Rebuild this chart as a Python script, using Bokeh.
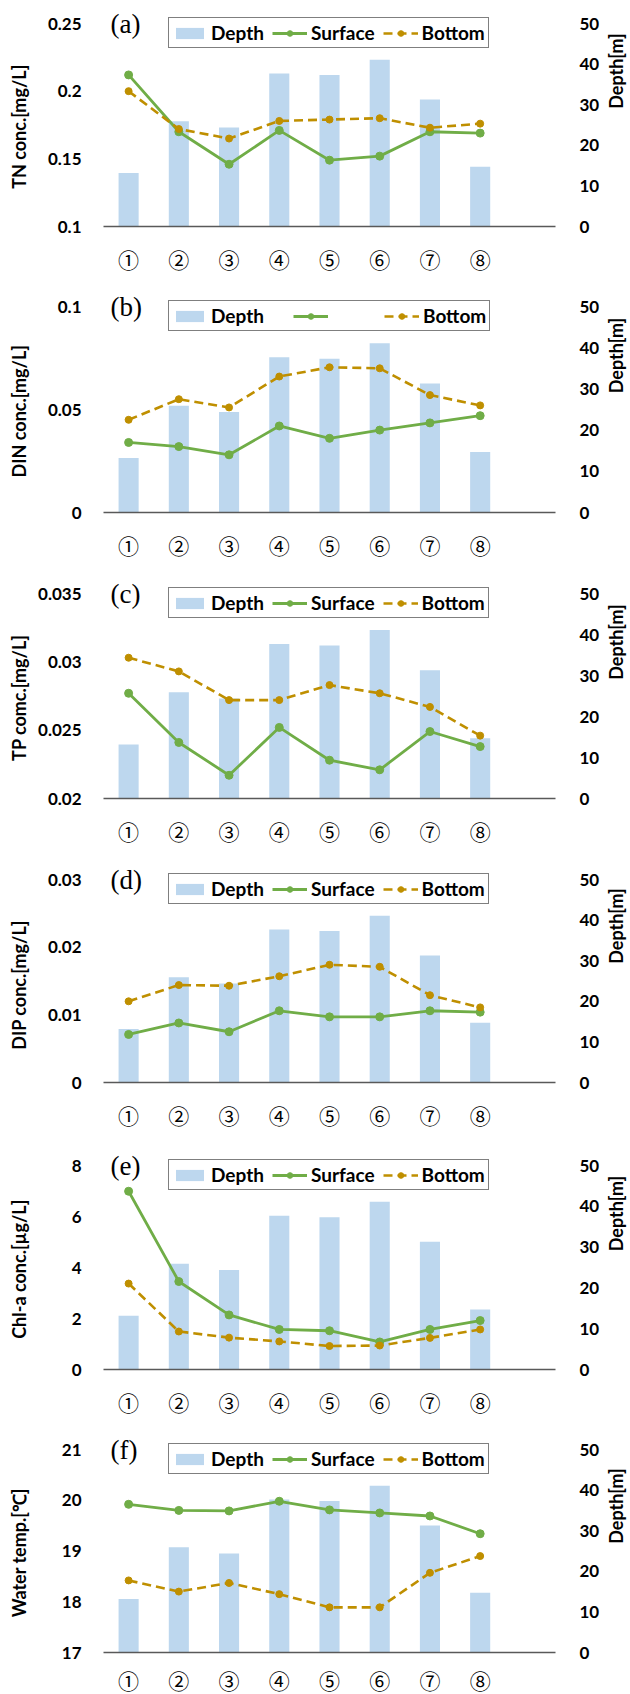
import math
from bokeh.plotting import figure
from bokeh.models import (Range1d, LinearAxis, FixedTicker, NumeralTickFormatter,
                          Legend, LegendItem, Label)
from bokeh.layouts import column, row
from bokeh.embed import file_html
from bokeh.resources import INLINE

# ---------------- data ----------------
stations = ["①", "②", "③", "④", "⑤", "⑥", "⑦", "⑧"]
station_x = [1, 2, 3, 4, 5, 6, 7, 8]
depth = [13.2, 25.9, 24.4, 37.7, 37.3, 41.1, 31.3, 14.7]
depth_ticks = [0, 10, 20, 30, 40, 50]

tn_surface = [0.212, 0.170, 0.146, 0.171, 0.149, 0.152, 0.170, 0.169]
tn_bottom = [0.200, 0.172, 0.165, 0.178, 0.179, 0.180, 0.173, 0.176]
tn_ticks = [0.1, 0.15, 0.2, 0.25]

din_surface = [0.034, 0.032, 0.028, 0.042, 0.036, 0.040, 0.0435, 0.047]
din_bottom = [0.045, 0.055, 0.051, 0.066, 0.0705, 0.070, 0.057, 0.052]
din_ticks = [0, 0.05, 0.1]

tp_surface = [0.0277, 0.0241, 0.0217, 0.0252, 0.0228, 0.0221, 0.0249, 0.0238]
tp_bottom = [0.0303, 0.0293, 0.0272, 0.0272, 0.0283, 0.0277, 0.0267, 0.0246]
tp_ticks = [0.02, 0.025, 0.03, 0.035]

dip_surface = [0.0071, 0.0088, 0.0075, 0.0106, 0.0097, 0.0097, 0.0106, 0.0104]
dip_bottom = [0.0120, 0.0144, 0.0143, 0.0157, 0.0174, 0.0171, 0.0129, 0.0111]
dip_ticks = [0, 0.01, 0.02, 0.03]

chl_surface = [6.99, 3.45, 2.14, 1.57, 1.52, 1.08, 1.57, 1.92]
chl_bottom = [3.37, 1.49, 1.25, 1.10, 0.92, 0.94, 1.24, 1.57]
chl_ticks = [0, 2, 4, 6, 8]

temp_surface = [19.92, 19.80, 19.79, 19.98, 19.81, 19.75, 19.69, 19.34]
temp_bottom = [18.42, 18.20, 18.37, 18.15, 17.89, 17.89, 18.57, 18.90]
temp_ticks = [17, 18, 19, 20, 21]

panels = [
    dict(tag="(a)", ylabel="TN conc.[mg/L]", ticks=tn_ticks, s=tn_surface, b=tn_bottom, slabel="Surface"),
    dict(tag="(b)", ylabel="DIN conc.[mg/L]", ticks=din_ticks, s=din_surface, b=din_bottom, slabel=""),
    dict(tag="(c)", ylabel="TP comc.[mg/L]", ticks=tp_ticks, s=tp_surface, b=tp_bottom, slabel="Surface"),
    dict(tag="(d)", ylabel="DIP  conc.[mg/L]", ticks=dip_ticks, s=dip_surface, b=dip_bottom, slabel="Surface"),
    dict(tag="(e)", ylabel="Chl-a conc.[µg/L]", ticks=chl_ticks, s=chl_surface, b=chl_bottom, slabel="Surface"),
    dict(tag="(f)", ylabel="Water temp.[℃]", ticks=temp_ticks, s=temp_surface, b=temp_bottom, slabel="Surface"),
]

# ---------------- layout (page pixel geometry) ----------------
bounds = [0, 280, 566, 852, 1137, 1423, 1694]
tops = [23, 306, 593, 879, 1165, 1449]
bots = [226, 512, 798, 1082, 1369, 1652]
PAD_TOP = 14
FRAME_L = 103
FRAME_W = 452
MAIN_W = 596
FIG_W = 630
SIDE_W = FIG_W - MAIN_W
RLABEL_X = 609
xstand = [11, 11, 11, 11, 11, 6]
TICK_FS = 17
LAB_FS = 18
TICK_STAND = 16

BAR_C = "#BDD7EE"
GREEN = "#70AD47"
BROWN = "#BF8F00"
FONT = "Lato"


def label_width(txt, fs):
    w = 0.0
    for ch in txt:
        w += 0.27 if ch == "." else 0.58
    return w * fs


rows = []
for i, pd_ in enumerate(panels):
    h = bots[i] - tops[i]
    F = h + PAD_TOP
    bt = tops[i] - PAD_TOP - bounds[i]
    bb = bounds[i + 1] - bots[i]
    H = bounds[i + 1] - bounds[i]
    ticks = pd_["ticks"]
    ymin, ymax = ticks[0], ticks[-1]
    yend = ymin + (ymax - ymin) * F / h
    dend = 50 * F / h

    p = figure(frame_width=FRAME_W, frame_height=F,
               min_border_left=FRAME_L, min_border_right=MAIN_W - FRAME_L - FRAME_W,
               min_border_top=bt, min_border_bottom=bb,
               x_range=Range1d(0.5, 9.5), y_range=Range1d(ymin, yend),
               output_backend="svg", toolbar_location=None, title=None)
    p.extra_y_ranges = {"depth": Range1d(0, dend)}
    p.outline_line_color = None
    p.xgrid.visible = False
    p.ygrid.visible = False
    p.background_fill_color = "white"
    p.border_fill_color = "white"

    # left axis
    tick_txt = [("%g" % t) for t in ticks]
    wmax = max(label_width(t, TICK_FS) for t in tick_txt)
    ya = p.yaxis[0]
    ya.ticker = FixedTicker(ticks=ticks)
    ya.formatter = NumeralTickFormatter(format="0.[000]")
    ya.axis_line_color = None
    ya.major_tick_line_color = None
    ya.minor_tick_line_color = None
    ya.major_label_standoff = TICK_STAND
    ya.major_label_text_font = FONT
    ya.major_label_text_font_style = "bold"
    ya.major_label_text_font_size = "%dpx" % TICK_FS
    ya.major_label_text_color = "black"
    ya.axis_label = pd_["ylabel"] + "\u00a0" * 4
    ya.axis_label_text_font = FONT
    ya.axis_label_text_font_style = "bold"
    ya.axis_label_text_font_size = "%dpx" % LAB_FS
    ya.axis_label_text_color = "black"
    ya.axis_label_standoff = max(0, int(round(78 - 18 - wmax - 0.6 * LAB_FS)))

    # right axis (tick labels only)
    ra = LinearAxis(y_range_name="depth", ticker=FixedTicker(ticks=depth_ticks),
                    axis_line_color=None, major_tick_line_color=None, minor_tick_line_color=None,
                    major_label_standoff=18, major_label_text_font=FONT,
                    major_label_text_font_style="bold", major_label_text_font_size="%dpx" % TICK_FS,
                    major_label_text_color="black")
    p.add_layout(ra, "right")

    # bottom axis
    xa = p.xaxis[0]
    xa.ticker = FixedTicker(ticks=station_x)
    xa.major_label_overrides = {x: s for x, s in zip(station_x, stations)}
    xa.axis_line_color = "#595959"
    xa.axis_line_width = 1.3
    xa.major_tick_line_color = None
    xa.minor_tick_line_color = None
    xa.major_label_standoff = xstand[i]
    xa.major_label_text_font = "Noto Sans CJK JP"
    xa.major_label_text_font_size = "21px"
    xa.major_label_text_color = "black"

    # glyphs
    bars = p.vbar(x=station_x, top=depth, bottom=0, width=0.4, y_range_name="depth",
                  fill_color=BAR_C, line_color=None)
    sl = p.line(station_x, pd_["s"], line_color=GREEN, line_width=2.8)
    sm = p.scatter(station_x, pd_["s"], size=8, fill_color=GREEN, line_color=GREEN)
    bl = p.line(station_x, pd_["b"], line_color=BROWN, line_width=2.6, line_dash="9 5")
    bm = p.scatter(station_x, pd_["b"], size=7, fill_color=BROWN, line_color=BROWN)

    slab = pd_["slabel"] if pd_["slabel"] else "\u00a0" * 5
    legend = Legend(items=[LegendItem(label="Depth", renderers=[bars]),
                           LegendItem(label=slab, renderers=[sl, sm]),
                           LegendItem(label="Bottom", renderers=[bl, bm])],
                    orientation="horizontal", location=(168 - FRAME_L, h - 25),
                    border_line_color="black", border_line_width=1.2,
                    padding=3, spacing=8 if pd_["slabel"] else 29, margin=0,
                    glyph_width=35, glyph_height=14, label_standoff=4,
                    label_text_font=FONT, label_text_font_style="bold",
                    label_text_font_size="19px", label_text_color="black",
                    background_fill_color="white", background_fill_alpha=1)
    p.add_layout(legend)

    # panel tag
    p.add_layout(Label(x=7, y=ymax, x_units="screen", y_units="data", text=pd_["tag"],
                       text_font="Liberation Serif", text_font_size="27px",
                       text_baseline="middle", text_align="left", text_color="black"))

    # side strip carrying the right axis title (reads bottom to top)
    q = figure(width=SIDE_W, height=H, min_border=0, x_range=Range1d(0, 1), y_range=Range1d(0, 1),
               x_axis_location=None, y_axis_location=None, output_backend="svg",
               toolbar_location=None, title=None)
    q.outline_line_color = None
    q.xgrid.visible = False
    q.ygrid.visible = False
    q.border_fill_color = "white"
    q.background_fill_color = "white"
    yc = bounds[i + 1] - (tops[i] + bots[i]) / 2.0
    q.add_layout(Label(x=RLABEL_X - MAIN_W, y=yc, x_units="screen", y_units="screen",
                       text="Depth[m]", angle=math.pi / 2, text_align="center",
                       text_baseline="middle", text_font=FONT, text_font_style="bold",
                       text_font_size="%dpx" % LAB_FS, text_color="black"))
    rows.append(row(p, q, spacing=0))

layout = column(*rows, spacing=0)
open("out.html", "w").write(file_html(layout, INLINE))
